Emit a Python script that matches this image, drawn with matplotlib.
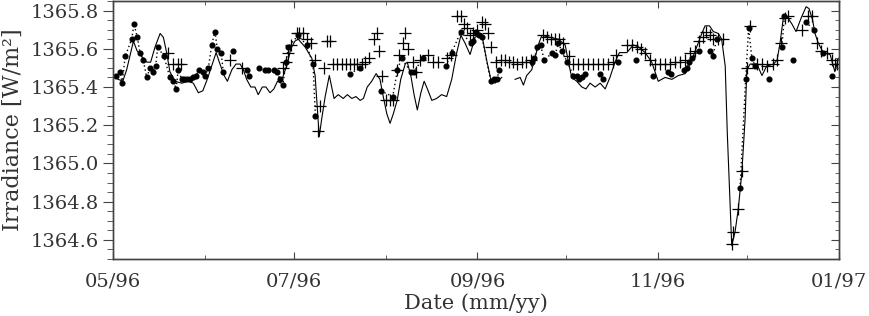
import numpy as np
import matplotlib
matplotlib.use("Agg")
import matplotlib.pyplot as plt
import matplotlib.dates as mdates
from matplotlib.ticker import MultipleLocator

# day offsets are counted from 1996-05-01, nan = gap in the record
start = np.datetime64("1996-05-01")

# solid line (model / reference series)
line_day = [0.1, 1.8, 3.3, 4.6, 6.0, 6.9, 8.1, 9.7, 11.4, 12.7, 14.2, 15.9, 17.0, 18.1,
            19.2, 20.9, 23.2, 25.4, 27.1, 28.8, 30.3, 31.8, 33.3, 34.8, 36.1, 37.5, 38.6,
            40.1, 41.5, 42.9, 44.0, 45.1, 46.5, 47.9, 49.0, 50.4, 51.6, 53.0, 54.3, 55.5,
            56.6, 57.7, 58.8, 60.0, 61.4, 62.5, 64.8, 67.1, 68.2, 68.9, 69.6, 70.4, 71.6,
            73.0, 73.8, 74.6, 76.0, 77.7, 79.1, 80.6, 82.0, 83.4, 84.5, 85.8, 87.3, 88.8,
            90.1, 91.2, 92.4, 93.5, 94.6, 95.9, 97.1, 98.6, 99.3, 100.5, 101.6, 102.7,
            103.9, 105.0, 106.1, 107.6, 109.2, 110.9, 112.6, 114.3, 116.0, 117.4, 118.8,
            120.5, 122.2, 124.4, 126.1, 127.5, 128.9, 131.2, 133.0, 135.7, 137.4, 138.5,
            139.6, 141.3, 142.4, 143.5, 144.7, 147.5, 150.3, 152.6, 153.7, 154.8, 156.5,
            158.2, 159.6, 161.0, 162.7, 164.4, 166.1, 167.7, 169.4, 170.9, 173.4, 175.6,
            177.3, 179.6, 181.8, 184.0, 186.3, 188.6, 190.8, 193.1, 195.3, 197.0, 198.7,
            199.8, 201.3, 202.6, 204.3, 205.4, 206.6, 207.3, 208.8, 209.9, 211.0, 212.2,
            213.3, 213.9, 215.0, 217.3, 219.0, 220.6, 222.9, 224.1, 225.1, 226.2, 227.4,
            229.1, 230.5, 232.2, 233.9, 234.9, 236.1, 236.9, 238.0, 239.7, 242.0, 243.6,
            244.8]
line_val = [1365.46, 1365.44, 1365.43, 1365.49, 1365.58, 1365.64, 1365.59, 1365.56, 1365.53,
            1365.53, 1365.61, 1365.68, 1365.66, 1365.58, 1365.48, 1365.43, 1365.42, 1365.43,
            1365.42, 1365.37, 1365.38, 1365.44, 1365.51, 1365.58, 1365.52, 1365.46, 1365.43,
            1365.49, 1365.52, 1365.52, 1365.49, 1365.44, 1365.40, 1365.40, 1365.36, 1365.40,
            1365.40, 1365.37, 1365.39, 1365.43, 1365.42, 1365.47, 1365.52, 1365.60, 1365.64,
            1365.65, 1365.61, 1365.55, 1365.46, 1365.30, 1365.14, 1365.23, 1365.35, 1365.46,
            1365.40, 1365.34, 1365.36, 1365.34, 1365.36, 1365.34, 1365.35, 1365.33, 1365.34,
            1365.40, 1365.43, 1365.47, 1365.44, 1365.35, 1365.26, 1365.21, 1365.26, 1365.33,
            1365.44, 1365.52, 1365.53, 1365.46, 1365.36, 1365.28, 1365.37, 1365.43, 1365.39,
            1365.33, 1365.34, 1365.36, 1365.35, 1365.44, 1365.58, 1365.67, 1365.63, 1365.57,
            1365.66, 1365.68, 1365.54, 1365.44, 1365.42, 1365.45, np.nan, 1365.44, 1365.45,
            1365.41, 1365.46, 1365.49, 1365.55, 1365.62, 1365.67, 1365.66, 1365.65, 1365.62,
            1365.53, 1365.45, 1365.43, 1365.40, 1365.39, 1365.42, 1365.40, 1365.42, 1365.39,
            1365.45, 1365.53, 1365.58, 1365.58, 1365.62, 1365.61, 1365.58, 1365.53, 1365.43,
            1365.45, 1365.44, 1365.46, 1365.47, 1365.54, 1365.61, 1365.68, 1365.72, 1365.72,
            1365.69, 1365.68, 1365.65, 1365.51, 1365.16, 1364.57, 1364.64, 1364.76, 1364.95,
            1365.23, 1365.49, 1365.52, 1365.52, 1365.46, 1365.51, 1365.52, 1365.54, 1365.63,
            1365.76, 1365.77, 1365.73, 1365.69, 1365.76, 1365.82, 1365.81, 1365.75, 1365.68,
            1365.63, 1365.58, 1365.57, 1365.48, 1365.55]

# filled circles joined by a dotted line
dot_day = [1.0, 2.4, 3.1, 4.1, 6.3, 7.1, 8.2, 9.1, 10.2, 11.4, 12.5, 13.4, 14.4, 15.1, 17.2,
           19.2, 20.4, 21.3, 22.0, 23.2, 24.0, 24.9, 26.0, 27.1, 28.0, 29.1, 30.3, 31.1,
           32.2, 33.3, 34.4, 35.2, 36.5, 37.2, 38.8, 40.4, 42.7, 45.1, 46.0, 47.7, 49.4,
           50.3, 51.3, 52.4, 53.3, 54.3, 55.2, 56.4, 57.3, 58.4, 59.2, 62.5, 65.3, 67.5,
           68.3, 74.0, 80.0, 83.4, 87.0, 90.3, 94.4, 96.0, 97.4, 100.5, 101.6, 104.5,
           108.0, 112.3, 114.3, 117.4, 120.7, 121.4, 122.5, 123.4, 124.5, 127.5, 128.6,
           129.5, 130.4, 136.0, 141.3, 142.2, 143.2, 144.3, 145.5, 148.3, 149.2, 150.3,
           151.4, 153.3, 155.4, 156.5, 157.4, 158.2, 159.3, 162.0, 164.4, 165.3, 168.0,
           170.5, 173.5, 176.5, 179.5, 182.4, 185.0, 187.4, 188.3, 190.5, 192.8, 193.6,
           194.5, 195.5, 197.8, 199.5, 201.5, 202.4, 203.7, 208.0, 211.6, 213.5, 214.5,
           215.6, 216.7, 219.0, 221.5, 223.5, 225.7, 226.6, 228.0, 229.6, 231.5, 233.7,
           236.6, 238.0, 239.7, 241.0, 242.6]
dot_val = [1365.46, 1365.48, 1365.42, 1365.56, 1365.65, 1365.73, 1365.66, 1365.58, 1365.54,
           1365.45, 1365.50, 1365.48, 1365.51, 1365.61, 1365.56, 1365.45, 1365.43, 1365.39,
           1365.49, 1365.44, 1365.44, 1365.44, 1365.44, 1365.45, 1365.46, 1365.49, 1365.48,
           1365.46, 1365.50, 1365.62, 1365.69, 1365.60, 1365.58, 1365.48, np.nan, 1365.59,
           np.nan, 1365.49, 1365.46, np.nan, 1365.50, np.nan, 1365.49, 1365.49, np.nan,
           1365.49, 1365.48, 1365.44, 1365.41, 1365.53, 1365.61, 1365.67, 1365.62, 1365.52,
           1365.25, np.nan, 1365.47, 1365.50, np.nan, 1365.38, 1365.35, 1365.49, 1365.55,
           1365.48, 1365.48, 1365.55, np.nan, 1365.51, 1365.58, 1365.69, 1365.63, 1365.64,
           1365.69, 1365.67, 1365.66, 1365.43, 1365.44, 1365.44, 1365.49, np.nan, 1365.53,
           1365.55, 1365.61, 1365.62, 1365.54, 1365.58, 1365.57, 1365.63, 1365.59, 1365.53,
           1365.46, 1365.46, 1365.44, 1365.45, 1365.47, np.nan, 1365.47, 1365.44, np.nan,
           1365.53, np.nan, 1365.54, np.nan, 1365.46, np.nan, 1365.48, 1365.47, np.nan,
           1365.49, 1365.50, 1365.53, 1365.55, 1365.59, np.nan, 1365.59, 1365.56, 1365.65,
           np.nan, 1364.87, 1365.44, 1365.71, 1365.55, 1365.51, np.nan, 1365.44, np.nan,
           1365.61, 1365.77, np.nan, 1365.54, np.nan, 1365.74, 1365.70, np.nan, 1365.58,
           np.nan, 1365.46]

# plus signs
plus_day = [18.6, 20.4, 21.9, 23.1, 39.5, 43.4, 57.4, 58.4, 59.2, 60.2, 62.0, 62.9, 64.0,
            65.4, 66.7, 68.2, 69.3, 69.9, 71.2, 72.1, 73.2, 74.4, 75.7, 77.2, 78.6, 80.0,
            81.3, 82.5, 83.9, 85.2, 86.5, 88.1, 89.0, 89.7, 90.7, 92.1, 93.5, 94.6, 95.7,
            96.6, 97.8, 98.7, 99.7, 101.1, 102.3, 103.6, 106.4, 107.9, 109.8, 112.6, 114.0,
            116.0, 117.4, 118.5, 119.4, 120.5, 121.6, 122.7, 124.4, 125.6, 126.7, 127.5,
            129.3, 130.8, 132.3, 133.7, 135.1, 136.5, 137.9, 139.4, 141.0, 145.2, 146.4,
            147.7, 149.2, 150.6, 152.0, 154.0, 155.3, 157.0, 158.7, 160.4, 162.1, 163.8,
            165.5, 167.2, 168.6, 169.8, 173.4, 175.1, 176.7, 178.1, 179.6, 181.2, 182.9,
            184.6, 186.3, 188.0, 189.7, 191.4, 193.1, 194.8, 196.5, 197.9, 199.1, 200.2,
            201.3, 202.6, 204.3, 205.8, 208.8, 209.3, 211.0, 212.2, 213.9, 215.0, 217.3,
            218.9, 220.6, 222.6, 224.0, 225.3, 226.8, 227.9, 232.4, 234.7, 235.8, 237.5,
            239.0, 240.9, 242.6, 243.7, 244.4]
plus_val = [1365.58, 1365.52, 1365.52, 1365.52, 1365.54, 1365.50, 1365.50, 1365.53, 1365.58,
            1365.62, 1365.68, 1365.68, 1365.68, 1365.65, 1365.63, 1365.54, 1365.17, 1365.30,
            1365.50, 1365.64, 1365.64, 1365.52, 1365.52, 1365.52, 1365.52, 1365.52, 1365.52,
            1365.52, 1365.52, 1365.53, 1365.55, 1365.65, 1365.68, 1365.59, 1365.46, 1365.33,
            1365.33, 1365.33, 1365.49, 1365.57, 1365.63, 1365.68, 1365.60, 1365.53, 1365.48,
            1365.54, 1365.57, 1365.53, 1365.53, 1365.55, 1365.57, 1365.77, 1365.77, 1365.73,
            1365.71, 1365.67, 1365.68, 1365.70, 1365.74, 1365.73, 1365.68, 1365.61, 1365.53,
            1365.54, 1365.54, 1365.53, 1365.53, 1365.52, 1365.53, 1365.53, 1365.54, 1365.67,
            1365.66, 1365.65, 1365.65, 1365.65, 1365.63, 1365.56, 1365.52, 1365.52, 1365.52,
            1365.52, 1365.52, 1365.52, 1365.52, 1365.52, 1365.53, 1365.57, 1365.62, 1365.62,
            1365.61, 1365.60, 1365.58, 1365.54, 1365.52, 1365.52, 1365.52, 1365.52, 1365.53,
            1365.53, 1365.54, 1365.58, 1365.59, 1365.64, 1365.66, 1365.69, 1365.67, 1365.65,
            1365.65, 1365.65, 1364.58, 1364.64, 1364.76, 1364.96, 1365.50, 1365.72, 1365.52,
            1365.52, 1365.51, 1365.52, 1365.54, 1365.63, 1365.76, 1365.77, 1365.70, 1365.77,
            1365.77, 1365.63, 1365.59, 1365.58, 1365.54, 1365.52, 1365.52]

def to_dates(days):
    return start + (np.array(days) * 24 * 3600).astype("timedelta64[s]")

plt.rcParams["font.family"] = ["DejaVu Serif"]
txt = "#333333"

fig = plt.figure(figsize=(8.69, 3.16), dpi=100)
ax = fig.add_axes([113 / 869, 57 / 316, 726 / 869, 258 / 316])

ax.plot(to_dates(line_day), line_val, color="black", lw=0.8)
ax.plot(to_dates(dot_day), dot_val, color="black", lw=1.0, ls=(0, (1, 2)),
        marker="o", ms=3.4, mfc="black", mec="black")
ax.plot(to_dates(plus_day), plus_val, ls="none", marker="+", ms=8, mew=0.9, color="black")

ax.set_xlim(np.datetime64("1996-05-01"), np.datetime64("1997-01-01"))
ax.set_ylim(1364.5, 1365.85)

ax.xaxis.set_major_locator(mdates.MonthLocator(bymonth=[1, 3, 5, 7, 9, 11]))
ax.xaxis.set_minor_locator(mdates.MonthLocator())
ax.xaxis.set_major_formatter(mdates.DateFormatter("%m/%y"))
ax.yaxis.set_major_locator(MultipleLocator(0.2))
ax.yaxis.set_minor_locator(MultipleLocator(0.05))
ax.yaxis.set_major_formatter(matplotlib.ticker.FormatStrFormatter("%.1f"))

ax.tick_params(axis="x", which="both", direction="in", top=True, colors="#444444",
               labelcolor=txt, labelsize=14, pad=10)
ax.tick_params(axis="x", which="major", length=5)
ax.tick_params(axis="x", which="minor", length=3)
ax.tick_params(axis="y", which="both", direction="out", right=False, colors="#444444",
               labelcolor=txt, labelsize=14, pad=3)
ax.tick_params(axis="y", which="major", length=7)
ax.tick_params(axis="y", which="minor", length=4)

# right side ticks point inwards
ax2 = ax.twinx()
ax2.set_ylim(ax.get_ylim())
ax2.yaxis.set_major_locator(MultipleLocator(0.2))
ax2.yaxis.set_minor_locator(MultipleLocator(0.05))
ax2.tick_params(axis="y", which="both", direction="in", labelright=False, colors="#444444")
ax2.tick_params(axis="y", which="major", length=6)
ax2.tick_params(axis="y", which="minor", length=3)

for a in (ax, ax2):
    for s in a.spines.values():
        s.set_color("#444444")
        s.set_linewidth(1.0)

ax.set_xlabel("Date (mm/yy)", fontsize=15, color=txt, labelpad=2)
ax.set_ylabel("Irradiance [W/m²]", fontsize=16, color=txt, labelpad=5)

fig.savefig("out.png", dpi=100)
